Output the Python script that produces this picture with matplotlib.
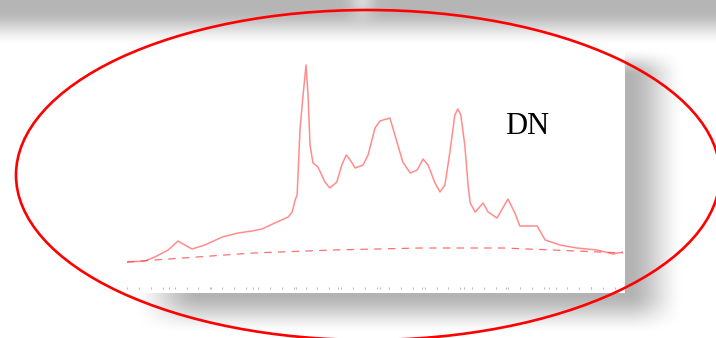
import numpy as np
import matplotlib
matplotlib.use("Agg")
import matplotlib.pyplot as plt
from matplotlib.patches import Ellipse, Rectangle

# spectrum (arbitrary x units 0-100, intensity in a.u.)
shift = [0.0, 3.6, 5.6, 8.3, 10.3, 11.3, 13.1, 15.7, 19.2, 22.4, 25.2, 27.2,
         29.8, 32.5, 33.3, 33.9, 34.3, 34.9, 35.5, 36.1, 36.5, 36.9, 37.5,
         38.5, 39.9, 40.9, 42.3, 43.3, 44.2, 45.0, 46.0, 47.6, 48.6, 50.0,
         51.0, 53.0, 53.6, 54.6, 55.6, 57.1, 58.5, 59.7, 60.7, 62.1, 63.1,
         64.1, 65.1, 66.1, 66.7, 67.3, 68.1, 68.8, 69.2, 70.2, 71.8, 72.8,
         74.6, 76.8, 78.2, 79.2, 82.7, 84.3, 87.3, 90.7, 94.8, 98.0, 100]
intensity = [25, 26, 30, 37, 46, 43, 38, 42, 50, 54, 56, 58,
             64, 70, 75, 87, 92, 159, 192, 222, 192, 142, 124,
             120, 105, 99, 105, 122, 132, 127, 119, 122, 132, 159,
             166, 169, 159, 142, 125, 114, 117, 128, 122, 104, 95,
             102, 135, 172, 178, 172, 142, 100, 84, 75, 84, 75,
             69, 88, 74, 61, 61, 47, 42, 39, 37, 33, 35]

base_x = [0, 25.4, 41.5, 59.1, 75.8, 85.9, 100]
base_y = [25, 34, 37, 39, 39, 37, 34]

W, H = 716, 338


def ramp(t, a, w):
    s = np.clip((t - a) / w, 0, 1)
    return s * s * (3 - 2 * s)


fig = plt.figure(figsize=(W / 100, H / 100), dpi=100)

# background: grey band at the top and the panel's drop shadow
bg = fig.add_axes([0, 0, 1, 1])
bg.set_xlim(0, W)
bg.set_ylim(H, 0)
bg.axis("off")

xx, yy = np.meshgrid(np.arange(W) + 0.5, np.arange(H) + 0.5)
shadow = (ramp(xx, 130, 70) * (1 - ramp(xx, 628, 58))
          * ramp(yy, 48, 28) * (1 - ramp(yy, 293, 42)))
img = 1 - 0.30 * shadow
top = 0.71 + 0.29 * ramp(yy, 10, 36)
spot = 0.14 * np.exp(-((xx - 362) / 12) ** 2) * (1 - ramp(yy, 0, 30))
img = np.minimum(img, np.clip(top + spot, 0, 1))
bg.imshow(img, cmap="gray", vmin=0, vmax=1, extent=(0, W, H, 0),
          aspect="auto", interpolation="bilinear")
bg.add_patch(Rectangle((127, 42), 498, 251, facecolor="white", edgecolor="none"))

# spectrum panel
ax = fig.add_axes([127 / W, 1 - 287 / H, 496 / W, 245 / H])
ax.patch.set_alpha(0)
ax.plot(shift, intensity, color="#ff7070", lw=1.1, alpha=0.8)
ax.plot(base_x, base_y, color="#ff4040", lw=0.9, ls=(0, (6, 5)), alpha=0.75)
ax.set_xlim(0, 100)
ax.set_ylim(0, 245)
for s in ax.spines.values():
    s.set_visible(False)
ax.set_yticks([])
ax.set_xticks(np.arange(8.5, 100, 8.5))
ax.set_xticks(np.arange(0, 100, 2.4), minor=True)
ax.tick_params(axis="x", which="both", direction="out", colors="#bbbbbb",
               length=1.5, width=0.8, labelbottom=False)
ax.text(0.762, 0.624, "DN", transform=ax.transAxes, ha="left", va="baseline",
        fontsize=22, family="Liberation Serif", color="black")

# red highlight ellipse drawn over everything
ov = fig.add_axes([0, 0, 1, 1])
ov.set_xlim(0, W)
ov.set_ylim(H, 0)
ov.axis("off")
ov.patch.set_alpha(0)
ov.add_patch(Ellipse((368, 175), 704, 330, fill=False, edgecolor="red", lw=1.9))

fig.savefig("out.png", dpi=100)
